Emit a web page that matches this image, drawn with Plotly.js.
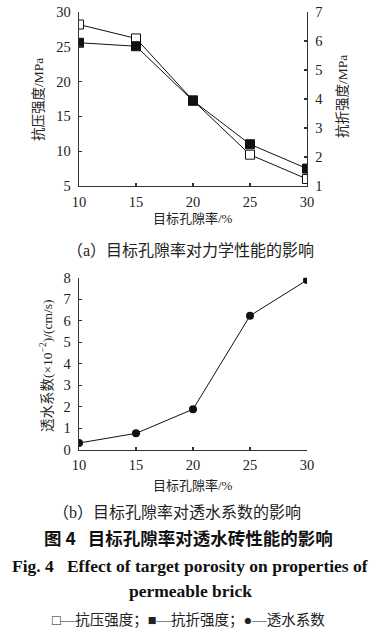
<!DOCTYPE html>
<html>
<head>
<meta charset="utf-8">
<script src="https://cdn.plot.ly/plotly-3.0.1.min.js"></script>
<style>html,body{margin:0;padding:0;background:#fff;}#chart{width:380px;height:633px;}</style>
</head>
<body>
<div id="chart"></div>
<script>
// ---- data ----
const porosity = [10, 15, 20, 25, 30];
const compressive = [28.2, 26.2, 17.3, 9.5, 6.0];     // 抗压强度 / MPa (left axis)
const flexural = [5.94, 5.82, 3.94, 2.44, 1.6];       // 抗折强度 / MPa (right axis)
const permeability = [0.31, 0.76, 1.88, 6.23, 7.89];  // 透水系数 ×10^-2 cm/s
const xTicks = [10, 15, 20, 25, 30];
const leftTicks = [5, 10, 15, 20, 25, 30];
const rightTicks = [1, 2, 3, 4, 5, 6, 7];
const permTicks = [0, 1, 2, 3, 4, 5, 6, 7, 8];

const W = 380, H = 633;
const px = v => v / W;
const py = v => 1 - v / H;
const SERIF = "Liberation Serif, 'Noto Sans CJK SC', serif";
const CJK = "'Noto Sans CJK SC', sans-serif";
const TXT = '#222';
const AX = '#333';

const traces = [
  {x: porosity, y: compressive, xaxis: 'x', yaxis: 'y', mode: 'lines+markers', name: '抗压强度',
   line: {color: '#111', width: 1},
   marker: {symbol: 'square', size: 9, color: '#fff', line: {color: '#111', width: 1}}},
  {x: porosity, y: flexural, xaxis: 'x', yaxis: 'y2', mode: 'lines+markers', name: '抗折强度',
   line: {color: '#111', width: 1},
   marker: {symbol: 'square', size: 9, color: '#111', line: {color: '#111', width: 1}}},
  {x: porosity, y: permeability, xaxis: 'x2', yaxis: 'y3', mode: 'lines+markers', name: '透水系数',
   line: {color: '#111', width: 1},
   marker: {symbol: 'circle', size: 8, color: '#111'}}
];

const tickFont = {family: SERIF, size: 14.5, color: TXT};
const common = {showgrid: false, zeroline: false, showline: true, linecolor: AX, linewidth: 1.3,
  ticks: 'inside', ticklen: 3, tickcolor: AX, tickwidth: 1.3, tickfont: tickFont, fixedrange: true};

const layout = {
  width: W, height: H,
  margin: {l: 0, r: 0, t: 0, b: 0},
  paper_bgcolor: '#fff', plot_bgcolor: 'rgba(0,0,0,0)',
  showlegend: false,
  xaxis: Object.assign({}, common, {domain: [px(79), px(307)], range: [10, 30], anchor: 'y',
    tickvals: xTicks, ticklabelstandoff: 2}),
  yaxis: Object.assign({}, common, {domain: [py(186), py(12)], range: [5, 30], anchor: 'x',
    tickvals: leftTicks, ticklabelstandoff: 4}),
  yaxis2: Object.assign({}, common, {overlaying: 'y', side: 'right', anchor: 'x', range: [1, 7],
    tickvals: rightTicks, ticklabelstandoff: 4}),
  xaxis2: Object.assign({}, common, {domain: [px(79), px(307)], range: [10, 30], anchor: 'y3',
    tickvals: xTicks, ticklabelstandoff: 2}),
  yaxis3: Object.assign({}, common, {domain: [py(449.7), py(277.7)], range: [0, 8], anchor: 'x2',
    tickvals: permTicks, ticklabelstandoff: 4}),
  annotations: [
    {text: '抗压强度/MPa', x: px(38), y: py(100), textangle: -90, font: {family: SERIF, size: 13.5, color: TXT}},
    {text: '抗折强度/MPa', x: px(342), y: py(97), textangle: -90, font: {family: SERIF, size: 13.5, color: TXT}},
    {text: '目标孔隙率/%', x: px(193), y: py(218), font: {family: SERIF, size: 13, color: TXT}},
    {text: '（a）目标孔隙率对力学性能的影响', x: px(190), y: py(250), font: {family: SERIF, size: 16, color: TXT}},
    {text: '透水系数(×10<sup>−2</sup>)/(cm/s)', x: px(46), y: py(366), textangle: -90, font: {family: SERIF, size: 13.5, color: TXT}},
    {text: '目标孔隙率/%', x: px(193), y: py(485), font: {family: SERIF, size: 13, color: TXT}},
    {text: '（b）目标孔隙率对透水系数的影响', x: px(177), y: py(512), font: {family: SERIF, size: 16, color: TXT}},
    {text: '<b>图 4   目标孔隙率对透水砖性能的影响</b>', x: px(188), y: py(537), font: {family: CJK, size: 17.5, color: '#111'}},
    {text: '<b>Fig. 4   Effect of target porosity on properties of</b>', x: px(190), y: py(566), font: {family: "Liberation Serif, serif", size: 17.5, color: '#111'}},
    {text: '<b>permeable brick</b>', x: px(190), y: py(591), font: {family: "Liberation Serif, serif", size: 17.5, color: '#111'}},
    {text: '□—抗压强度；■—抗折强度；●—透水系数', x: px(188), y: py(620), font: {family: SERIF, size: 14.5, color: TXT}}
  ].map(a => Object.assign({xref: 'paper', yref: 'paper', showarrow: false, xanchor: 'center', yanchor: 'middle'}, a))
};

Plotly.newPlot('chart', traces, layout, {staticPlot: true, displayModeBar: false});
</script>
</body>
</html>
